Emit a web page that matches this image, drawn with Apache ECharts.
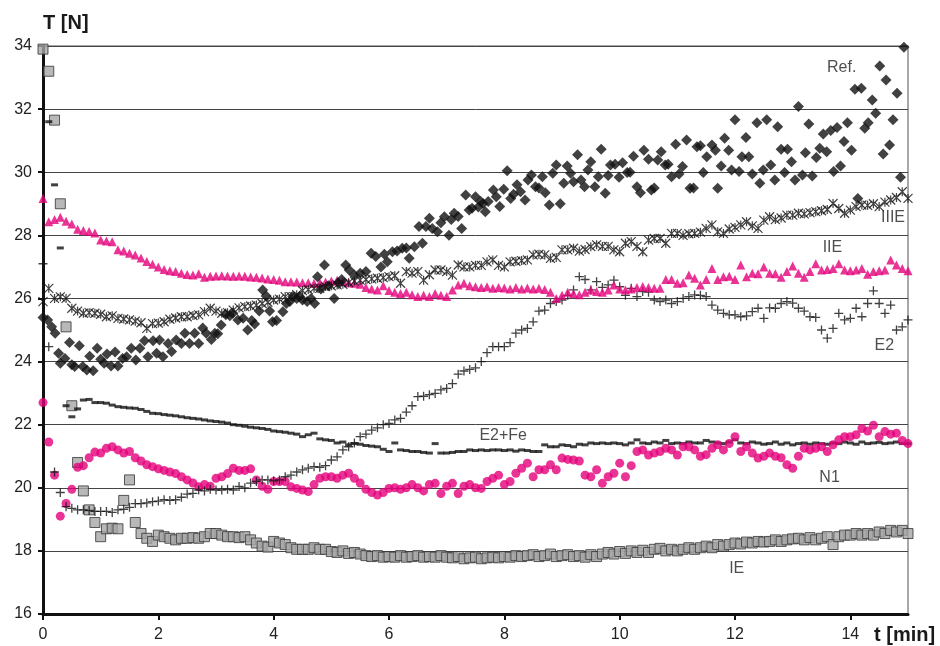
<!DOCTYPE html>
<html><head><meta charset="utf-8">
<script src="https://cdn.jsdelivr.net/npm/echarts@6/dist/echarts.min.js"></script>
<style>html,body{margin:0;padding:0;background:#fff}#c{width:940px;height:646px}</style>
</head><body><div id="c"></div>
<script>
// sampling times (min), 0.1 min step
const t = Array.from({length: 151}, (_, i) => +(i * 0.1).toFixed(1));
const xTicks = [0, 2, 4, 6, 8, 10, 12, 14];

const IE = [
33.9, 33.2, 31.65, 29.0, 25.1, 22.6, 20.8, 19.9, 19.3, 18.9,
18.45, 18.7, 18.72, 18.7, 19.6, 20.25, 18.9, 18.55, 18.4, 18.3,
18.5, 18.45, 18.4, 18.35, 18.4, 18.4, 18.42, 18.4, 18.45, 18.55,
18.55, 18.5, 18.45, 18.45, 18.42, 18.45, 18.35, 18.25, 18.15, 18.12,
18.3, 18.25, 18.2, 18.1, 18.05, 18.05, 18.05, 18.1, 18.05, 18.05,
17.98, 17.95, 18.0, 17.92, 17.95, 17.9, 17.85, 17.82, 17.85, 17.8,
17.82, 17.8, 17.85, 17.8, 17.82, 17.85, 17.8, 17.82, 17.8, 17.85,
17.8, 17.78, 17.82, 17.75, 17.78, 17.8, 17.75, 17.78, 17.8, 17.78,
17.82, 17.8, 17.85, 17.82, 17.85, 17.88, 17.82, 17.85, 17.9, 17.82,
17.85, 17.88, 17.82, 17.85, 17.8, 17.88, 17.82, 17.9, 17.95, 17.9,
17.98, 17.92, 18.0, 17.95, 18.02, 17.95, 18.05, 18.08, 18.0, 18.05,
18.0, 18.05, 18.1, 18.05, 18.1, 18.15, 18.1, 18.2, 18.15, 18.2,
18.25, 18.22, 18.28, 18.25, 18.3, 18.28, 18.3, 18.35, 18.3, 18.35,
18.38, 18.4, 18.35, 18.42, 18.35, 18.4, 18.45, 18.2, 18.45, 18.5,
18.5, 18.55, 18.5, 18.55, 18.5, 18.6, 18.55, 18.65, 18.6, 18.65,
18.55];

const N1 = [
22.7, 21.45, 20.4, 19.1, 19.5, 19.95, 20.65, 20.7, 20.95, 21.13,
21.1, 21.25, 21.3, 21.2, 21.1, 21.15, 20.95, 20.85, 20.73, 20.67,
20.6, 20.55, 20.5, 20.45, 20.35, 20.25, 20.15, 20.03, 20.1, 20.05,
20.3, 20.35, 20.45, 20.62, 20.55, 20.55, 20.6, 20.25, 20.05, 19.95,
20.2, 20.2, 20.2, 20.03, 19.98, 19.93, 19.88, 20.1, 20.3, 20.35,
20.35, 20.3, 20.4, 20.46, 20.3, 20.15, 19.95, 19.85, 19.77, 19.85,
19.98, 20.0, 19.95, 20.0, 20.1, 20.0, 19.9, 20.1, 20.14, 19.82,
20.05, 20.14, 19.82, 20.05, 20.1, 20.0, 19.98, 20.2, 20.3, 20.4,
20.1, 20.2, 20.46, 20.62, 20.78, 20.35, 20.57, 20.57, 20.73, 20.57,
20.94, 20.9, 20.88, 20.85, 20.4, 20.35, 20.57, 20.14, 20.35, 20.46,
20.78, 20.35, 20.7, 21.15, 21.2, 21.04, 21.1, 21.15, 21.25, 21.2,
21.04, 21.3, 21.3, 21.2, 21.0, 21.05, 21.25, 21.36, 21.2, 21.4,
21.62, 21.15, 21.3, 21.1, 20.94, 21.0, 21.1, 21.0, 20.95, 20.73,
20.62, 21.0, 21.25, 21.2, 21.25, 21.3, 21.15, 21.36, 21.52, 21.62,
21.62, 21.68, 21.88, 21.8, 21.98, 21.62, 21.78, 21.7, 21.73, 21.5,
21.4];

const E2Fe = [
null, 31.6, 29.6, 27.6, 22.6, 22.25, 22.5, 22.78, 22.8, 22.7,
22.7, 22.68, 22.62, 22.57, 22.55, 22.53, 22.52, 22.48, 22.42, 22.36,
22.35, 22.32, 22.3, 22.28, 22.25, 22.22, 22.2, 22.18, 22.15, 22.12,
22.1, 22.08, 22.05, 22.0, 21.98, 21.95, 21.92, 21.9, 21.88, 21.85,
21.8, 21.78, 21.76, 21.73, 21.7, 21.62, 21.68, 21.73, 21.55, 21.52,
21.5, 21.42, 21.45, 21.36, 21.4, 21.38, 21.34, 21.32, 21.3, 21.22,
21.15, 21.42, 21.2, 21.18, 21.15, 21.15, 21.12, 21.1, 21.4, 21.1,
21.1, 21.12, 21.15, 21.15, 21.2, 21.18, 21.2, 21.18, 21.2, 21.2,
21.18, 21.2, 21.16, 21.2, 21.18, 21.15, 21.15, 21.36, 21.3, 21.3,
21.36, 21.34, 21.3, 21.38, 21.36, 21.42, 21.4, 21.42, 21.4, 21.42,
21.4, 21.36, 21.42, 21.52, 21.42, 21.4, 21.45, 21.42, 21.5, 21.4,
21.42, 21.4, 21.45, 21.42, 21.42, 21.5, 21.45, 21.42, 21.4, 21.45,
21.52, 21.42, 21.4, 21.45, 21.42, 21.38, 21.4, 21.45, 21.38, 21.42,
21.36, 21.4, 21.42, 21.38, 21.42, 21.4, 21.38, 21.42, 21.4, 21.45,
21.42, 21.38, 21.45, 21.4, 21.42, 21.44, 21.4, 21.42, 21.45, 21.4,
21.4];

const E2 = [
27.1, 24.47, 20.5, 19.85, 19.4, 19.35, 19.3, 19.3, 19.28, 19.25,
19.25, 19.25, 19.22, 19.3, 19.32, 19.38, 19.5, 19.5, 19.52, 19.56,
19.58, 19.62, 19.6, 19.62, 19.7, 19.8, 19.82, 19.93, 19.9, 19.95,
19.93, 19.93, 19.95, 19.93, 20.04, 20.0, 20.15, 20.2, 20.25, 20.25,
20.22, 20.25, 20.35, 20.4, 20.5, 20.57, 20.62, 20.67, 20.65, 20.7,
20.88, 20.98, 21.2, 21.3, 21.42, 21.62, 21.7, 21.83, 21.9, 22.0,
22.04, 22.15, 22.2, 22.4, 22.6, 22.89, 22.9, 22.95, 22.99, 23.1,
23.15, 23.3, 23.6, 23.7, 23.75, 23.8, 24.0, 24.28, 24.47, 24.47,
24.47, 24.6, 24.9, 25.0, 25.05, 25.26, 25.6, 25.63, 25.84, 25.9,
25.95, 26.1, 26.27, 26.69, 26.6, 26.27, 26.53, 26.35, 26.43, 26.58,
26.37, 26.1, 26.32, 26.06, 26.22, 26.2, 25.95, 25.9, 25.95, 25.84,
25.9, 26.0, 26.06, 26.11, 26.1, 26.06, 25.79, 25.63, 25.53, 25.48,
25.48, 25.42, 25.45, 25.58, 25.69, 25.37, 25.7, 25.69, 25.84, 25.9,
25.85, 25.69, 25.6, 25.42, 25.4, 25.0, 24.74, 25.05, 25.53, 25.32,
25.37, 25.69, 25.42, 25.84, 26.24, 25.84, 25.53, 25.79, 25.0, 25.1,
25.32];

const IIE = [
29.17, 28.43, 28.5, 28.57, 28.45, 28.36, 28.19, 28.15, 28.12, 28.07,
27.85, 27.82, 27.8, 27.54, 27.5, 27.43, 27.38, 27.28, 27.17, 27.08,
27.0, 26.92, 26.88, 26.85, 26.8, 26.76, 26.74, 26.78, 26.67, 26.7,
26.71, 26.72, 26.71, 26.7, 26.71, 26.7, 26.68, 26.67, 26.65, 26.62,
26.6, 26.58, 26.53, 26.53, 26.52, 26.5, 26.5, 26.48, 26.5, 26.52,
26.55, 26.58, 26.54, 26.5, 26.48, 26.45, 26.35, 26.3, 26.27, 26.4,
26.25, 26.2, 26.16, 26.2, 26.12, 26.06, 26.1, 26.06, 26.16, 26.1,
26.06, 26.27, 26.43, 26.48, 26.4, 26.37, 26.35, 26.37, 26.32, 26.35,
26.33, 26.3, 26.35, 26.3, 26.33, 26.3, 26.32, 26.28, 26.2, 26.0,
26.1, 26.2, 26.16, 26.12, 26.2, 26.27, 26.22, 26.2, 26.27, 26.43,
26.3, 26.27, 26.3, 26.35, 26.38, 26.35, 26.32, 26.32, 26.6, 26.6,
26.48, 26.5, 26.74, 26.64, 26.43, 26.6, 26.95, 26.6, 26.69, 26.7,
26.6, 27.06, 26.69, 26.8, 26.78, 27.0, 26.8, 26.78, 26.67, 26.85,
27.03, 26.8, 26.67, 26.85, 27.1, 26.9, 26.92, 26.95, 27.1, 26.9,
26.88, 26.9, 26.95, 26.77, 26.85, 26.88, 26.9, 27.22, 27.06, 26.95,
26.88];

const IIIE = [
25.9, 26.32, 26.0, 26.05, 26.0, 25.69, 25.6, 25.53, 25.55, 25.53,
25.5, 25.42, 25.45, 25.37, 25.35, 25.32, 25.28, 25.23, 25.05, 25.2,
25.22, 25.26, 25.34, 25.38, 25.42, 25.42, 25.46, 25.48, 25.58, 25.69,
25.6, 25.53, 25.55, 25.63, 25.7, 25.74, 25.76, 25.79, 25.84, 25.88,
25.95, 25.98, 26.06, 26.06, 26.12, 26.25, 26.28, 26.32, 26.32, 26.38,
26.4, 26.43, 26.45, 26.5, 26.55, 26.58, 26.6, 26.62, 26.64, 26.66,
26.69, 26.72, 26.48, 26.85, 26.8, 26.85, 26.58, 26.75, 26.9, 26.9,
26.85, 26.74, 27.06, 27.0, 27.0, 27.05, 27.05, 27.16, 27.22, 27.05,
27.0, 27.16, 27.18, 27.2, 27.22, 27.38, 27.4, 27.38, 27.27, 27.3,
27.54, 27.54, 27.59, 27.5, 27.55, 27.64, 27.7, 27.65, 27.65, 27.54,
27.48, 27.75, 27.8, 27.65, 27.48, 27.85, 27.9, 27.9, 27.75, 28.06,
28.06, 28.0, 28.05, 28.06, 28.1, 28.22, 28.33, 28.11, 28.06, 28.2,
28.25, 28.33, 28.43, 28.3, 28.22, 28.48, 28.59, 28.5, 28.55, 28.64,
28.64, 28.7, 28.68, 28.72, 28.75, 28.78, 28.82, 29.01, 28.85, 28.7,
28.8, 28.91, 28.96, 28.95, 29.0, 28.91, 29.05, 29.12, 29.2, 29.38,
29.17];

// Ref. series has its own sampling times
const refT = [
0, 0.08, 0.15, 0.21, 0.27, 0.3, 0.38, 0.46, 0.5, 0.55, 0.63, 0.69, 0.76, 0.81, 0.87, 0.94,
1.0, 1.06, 1.11, 1.18, 1.25, 1.3, 1.38, 1.45, 1.53, 1.61, 1.68, 1.76, 1.82, 1.91, 1.97,
2.02, 2.08, 2.17, 2.23, 2.31, 2.4, 2.46, 2.54, 2.63, 2.7, 2.77, 2.83, 2.92, 2.98,
3.03, 3.09, 3.17, 3.24, 3.29, 3.38, 3.47, 3.55, 3.62, 3.67, 3.75, 3.81, 3.87, 3.93, 3.98,
4.05, 4.16, 4.22, 4.28, 4.33, 4.4, 4.45, 4.5, 4.58, 4.65, 4.71, 4.76, 4.82, 4.88, 4.95,
5.05, 5.12, 5.18, 5.25, 5.31, 5.4, 5.5, 5.6, 5.69, 5.77, 5.86, 5.92, 5.97,
6.06, 6.14, 6.23, 6.3, 6.35, 6.44, 6.52, 6.58, 6.64, 6.7, 6.75, 6.84, 6.9, 6.96,
7.04, 7.08, 7.13, 7.2, 7.26, 7.33, 7.39, 7.44, 7.5, 7.55, 7.59, 7.63, 7.67, 7.72, 7.81, 7.86, 7.92, 7.99,
8.05, 8.11, 8.16, 8.22, 8.28, 8.36, 8.41, 8.47, 8.54, 8.6, 8.66, 8.71, 8.78, 8.84, 8.9, 8.97,
9.03, 9.09, 9.15, 9.2, 9.27, 9.33, 9.39, 9.45, 9.5, 9.57, 9.63, 9.68, 9.75, 9.8, 9.84, 9.92, 9.99,
10.05, 10.13, 10.18, 10.24, 10.3, 10.36, 10.42, 10.5, 10.55, 10.6, 10.66, 10.72, 10.79, 10.84, 10.9, 10.97,
11.03, 11.09, 11.16, 11.22, 11.28, 11.34, 11.4, 11.45, 11.51, 11.6, 11.66, 11.7, 11.76, 11.82, 11.89, 11.94,
12.0, 12.07, 12.12, 12.19, 12.24, 12.3, 12.38, 12.43, 12.49, 12.55, 12.62, 12.69, 12.74, 12.8, 12.86, 12.91, 12.98,
13.04, 13.1, 13.17, 13.22, 13.28, 13.34, 13.41, 13.47, 13.53, 13.59, 13.66, 13.71, 13.77, 13.83, 13.89, 13.95,
14.02, 14.08, 14.13, 14.19, 14.25, 14.31, 14.38, 14.44, 14.51, 14.57, 14.62, 14.68, 14.74, 14.81, 14.87, 14.93];
const refV = [
25.4, 25.32, 25.1, 24.9, 24.26, 23.95, 24.1, 24.6, 23.9, 23.84, 24.5, 23.84, 23.73, 24.17, 23.71, 24.42,
24.07, 23.95, 24.24, 23.86, 24.3, 23.86, 24.1, 24.15, 24.42, 24.05, 24.42, 24.66, 24.15, 24.66, 24.26,
24.68, 24.15, 24.57, 24.32, 24.68, 24.57, 24.9, 24.57, 24.9, 24.57, 25.06, 24.9, 24.7, 24.9,
24.88, 25.16, 25.48, 25.45, 25.53, 25.32, 25.37, 25.0, 25.3, 25.19, 25.6, 26.27, 26.08, 25.6, 25.26,
25.3, 25.58, 25.84, 25.9, 26.06, 26.0, 26.06, 25.95, 25.9, 26.0, 25.84, 26.69, 26.3, 27.06, 26.4,
26.0, 26.5, 26.6, 27.06, 26.9, 26.74, 26.8, 26.85, 27.43, 27.33, 27.0, 27.4, 27.16,
27.48, 27.5, 27.59, 27.6, 27.27, 27.64, 28.28, 27.75, 28.28, 28.54, 28.22, 28.11, 28.4, 28.59,
28.0, 28.5, 28.7, 28.6, 28.22, 29.28, 28.8, 28.86, 29.22, 28.9, 29.07, 29.01, 28.75, 29.07, 29.44, 29.22, 28.91, 29.46,
30.05, 29.17, 29.3, 29.6, 29.38, 29.12, 29.75, 29.91, 29.54, 29.5, 29.86, 29.35, 28.96, 29.97, 30.23, 29.0,
29.65, 30.2, 29.97, 29.7, 30.55, 29.75, 29.54, 30.07, 30.33, 29.54, 29.86, 30.73, 29.33, 29.9, 30.23, 30.25, 29.84,
30.3, 29.99, 30.0, 30.51, 29.54, 29.35, 30.7, 30.41, 29.44, 29.5, 30.39, 30.65, 30.23, 30.25, 29.86, 30.89,
29.94, 30.18, 31.02, 29.49, 29.5, 30.81, 30.84, 29.99, 30.49, 30.86, 30.7, 29.49, 30.2, 31.08, 30.7, 30.07,
31.66, 30.02, 30.49, 31.1, 30.49, 29.94, 31.57, 29.65, 30.07, 31.66, 30.23, 29.75, 31.44, 30.73, 29.99, 30.73, 30.33,
29.75, 32.08, 29.91, 30.62, 31.53, 29.88, 30.47, 30.76, 31.21, 30.65, 31.32, 30.02, 31.42, 30.2, 30.97, 31.57,
30.7, 32.63, 29.17, 32.66, 31.39, 31.57, 32.29, 31.87, 33.37, 30.58, 32.92, 30.86, 31.66, 32.5, 29.84, 33.96];

// in-plot series names and their anchor positions (data units)
const labelNames = ['Ref.', 'IIIE', 'IIE', 'E2', 'E2+Fe', 'N1', 'IE'];
const labelT = [13.85, 14.74, 13.69, 14.59, 7.98, 13.64, 12.03];
const labelV = [33.3, 28.55, 27.6, 24.49, 21.64, 20.31, 17.43];

const FONT = '"Liberation Sans", Arial, Helvetica, sans-serif';
const MAG = '#e3007b';
const pairs = arr => arr.map((v, i) => [t[i], v]).filter(p => p[1] != null);

const chart = echarts.init(document.getElementById('c'), null, {renderer: 'canvas'});
chart.setOption({
  animation: false,
  backgroundColor: '#fff',
  grid: {left: 43, right: 32, top: 46, bottom: 32, show: true, borderColor: '#8c8c8c', borderWidth: 1.5},
  xAxis: {
    type: 'value', min: 0, max: 15,
    axisLine: {show: true, onZero: false, lineStyle: {color: '#111', width: 3}},
    axisTick: {show: true, length: 6, customValues: xTicks, lineStyle: {color: '#111', width: 2}},
    axisLabel: {customValues: xTicks, fontSize: 16, color: '#222', fontFamily: FONT, margin: 13},
    splitLine: {show: false}
  },
  yAxis: {
    type: 'value', min: 16, max: 34, interval: 2,
    axisLine: {show: true, lineStyle: {color: '#111', width: 3}},
    axisTick: {show: true, length: 5, lineStyle: {color: '#111', width: 2}},
    axisLabel: {fontSize: 16, color: '#222', fontFamily: FONT, margin: 11},
    splitLine: {show: true, lineStyle: {color: '#444', width: 1}}
  },
  graphic: [
    {type: 'text', left: 43, top: 13, style: {text: 'T [N]', font: 'bold 20px ' + FONT, fill: '#1a1a1a'}},
    {type: 'text', left: 874, top: 625, style: {text: 't [min]', font: 'bold 20px ' + FONT, fill: '#1a1a1a'}}
  ],
  series: [
    {name: 'IE', type: 'scatter', data: pairs(IE), symbol: 'rect', symbolSize: 10,
     itemStyle: {color: '#a6a6a6', borderColor: '#333', borderWidth: 1}},
    {name: 'E2+Fe', type: 'scatter', data: pairs(E2Fe), symbol: 'rect', symbolSize: [7, 3],
     itemStyle: {color: '#111'}},
    {name: 'N1', type: 'scatter', data: pairs(N1), symbol: 'circle', symbolSize: 9,
     itemStyle: {color: MAG}},
    {name: 'E2', type: 'scatter', data: pairs(E2), symbol: 'path://M5,0L5,10M0,5L10,5', symbolSize: 9,
     itemStyle: {color: 'none', borderColor: '#111', borderWidth: 1.3}},
    {name: 'IIE', type: 'scatter', data: pairs(IIE), symbol: 'triangle', symbolSize: 9,
     itemStyle: {color: MAG}},
    {name: 'IIIE', type: 'scatter', data: pairs(IIIE), symbol: 'path://M0,0L10,10M10,0L0,10M5,0L5,10', symbolSize: 9,
     itemStyle: {color: 'none', borderColor: '#111', borderWidth: 1.2}},
    {name: 'Ref.', type: 'scatter', data: refT.map((x, i) => [x, refV[i]]), symbol: 'diamond', symbolSize: 11,
     itemStyle: {color: '#111'}},
    {name: 'labels', type: 'scatter', silent: true, symbolSize: 1,
     itemStyle: {color: 'rgba(0,0,0,0)'},
     data: labelNames.map((n, i) => ({name: n, value: [labelT[i], labelV[i]]})),
     label: {show: true, position: 'inside', formatter: p => p.name, fontSize: 16, color: '#222', fontFamily: FONT}}
  ]
});
</script></body></html>
